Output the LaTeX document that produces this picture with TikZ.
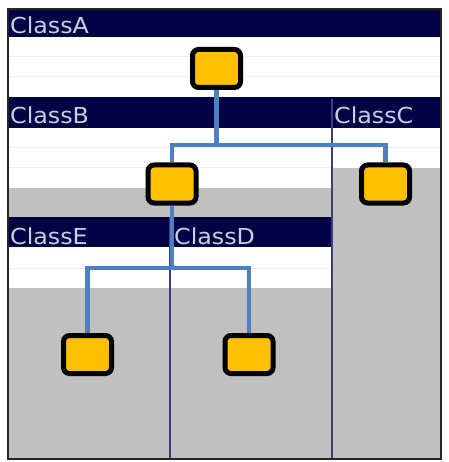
\documentclass[tikz,border=0pt]{standalone}
\usepackage{fontspec}
\setmainfont{DejaVu Sans}
\usepackage{tikz}
\usetikzlibrary{positioning}

\definecolor{hdrnavy}{RGB}{2,2,68}
\definecolor{hdrtext}{RGB}{205,205,228}
\definecolor{divline}{RGB}{62,62,122}
\definecolor{lanegrey}{RGB}{192,192,192}
\definecolor{stripe}{RGB}{236,236,242}
\definecolor{linkblue}{RGB}{76,128,192}
\definecolor{boxyellow}{RGB}{255,192,0}

\pgfdeclarelayer{lanes}
\pgfdeclarelayer{links}
\pgfsetlayers{lanes,links,main}

\tikzset{
    classbox/.style={draw=black, line width=5pt, fill=boxyellow, rounded corners=6pt,
        minimum width=48pt, minimum height=38pt, inner sep=0pt},
    classname/.style={anchor=base west, inner sep=0pt, text=hdrtext, xscale=1.08,
        font=\fontsize{22}{22}\selectfont},
    link/.style={draw=linkblue, line width=4.5pt}
}

\begin{document}
\begin{tikzpicture}[x=1pt, y=-1pt]
    \useasboundingbox (0,0) rectangle (448,462);
    \begin{pgfonlayer}{lanes}
    % 1. Các vùng nền
    \fill[white] (8,9) rectangle (441,459);
    \fill[lanegrey] (8,188) rectangle (332,217);
    \fill[lanegrey] (332,168) rectangle (441,459);
    \fill[lanegrey] (8,288) rectangle (332,459);
    \foreach \y in {57,77} {
        \draw[stripe, line width=1pt] (8,\y) -- (441,\y);
    }
    \foreach \y in {148,168} {
        \draw[stripe, line width=1pt] (8,\y) -- (332,\y);
    }
    \draw[stripe, line width=1pt] (332,148) -- (441,148);
    \draw[stripe, line width=1pt] (8,268) -- (332,268);

    % 2. Thanh tiêu đề
    \fill[hdrnavy] (8,9) rectangle (441,37);
    \fill[hdrnavy] (8,97) rectangle (441,128);
    \fill[hdrnavy] (8,217) rectangle (332,247);
    \draw[divline, line width=2pt] (332,99) -- (332,459);
    \draw[divline, line width=2pt] (170,217) -- (170,459);
    \draw[black!85, line width=2.5pt] (8,9) rectangle (441,459);

    \node[classname] (labA) at (10,34) {ClassA};
    \node[classname] (labB) at (10,124) {ClassB};
    \node[classname] (labC) at (334,124) {ClassC};
    \node[classname] (labE) at (10,244) {ClassE};
    \node[classname] (labD) at (174,244) {ClassD};
    \end{pgfonlayer}

    % 3. Các nút
    \node[classbox] (topA) at (216.5,68.5) {};
    \node[classbox] (nodeB) at (172,184) {};
    \node[classbox] (nodeC) at (385.5,184) {};
    \node[classbox] (nodeE) at (87.5,354.5) {};
    \node[classbox] (nodeD) at (249,354.5) {};

    % 4. Đường nối
    \coordinate (forkA) at (216.5,145);
    \coordinate (forkB) at (172,268);
    \begin{pgfonlayer}{links}
    \draw[link] (topA.south) -- (forkA) -| (nodeB.north);
    \draw[link] (forkA) -| (nodeC.north);
    \draw[link] (nodeB.south) -- (forkB) -| (nodeE.north);
    \draw[link] (forkB) -| (nodeD.north);
    \end{pgfonlayer}
\end{tikzpicture}
\end{document}
